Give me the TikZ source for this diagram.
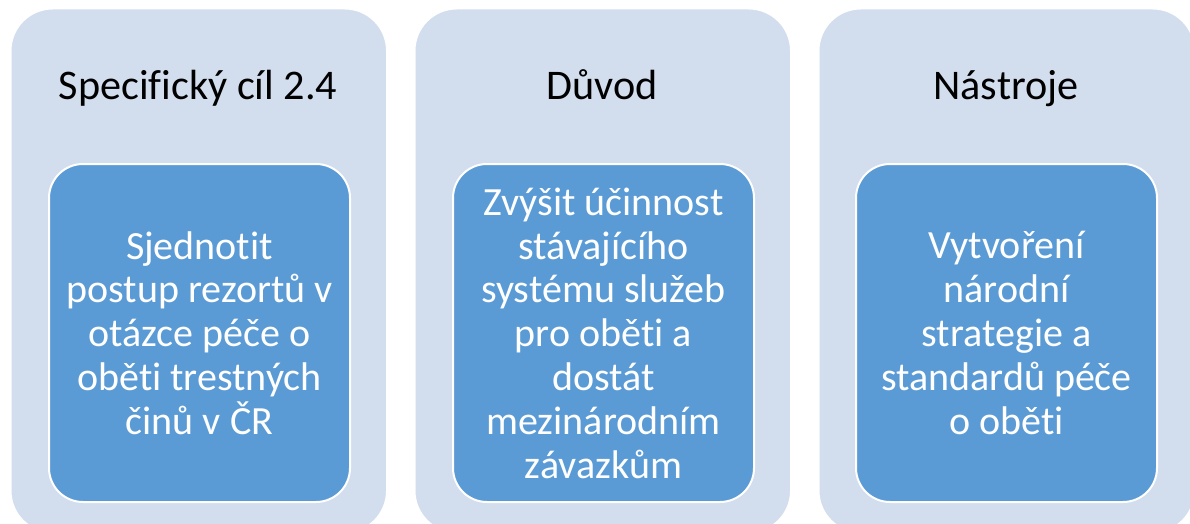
\documentclass[tikz,border=0pt]{standalone}
\usepackage{fontspec}
\setmainfont{Carlito}[Ligatures={NoCommon}]
\definecolor{outerfill}{HTML}{D2DDEE}
\definecolor{innerfill}{HTML}{5B9BD5}
\begin{document}
\begin{tikzpicture}[x=1pt,y=-1pt,
  outerbox/.style={draw=white,line width=1.5pt,fill=outerfill,rounded corners=42pt,minimum width=376pt,minimum height=524pt,inner sep=0pt,anchor=north west},
  innerbox/.style={draw=white,line width=2pt,fill=innerfill,rounded corners=34pt,minimum width=301pt,minimum height=338pt,inner sep=0pt,anchor=north west},
  titletext/.style={anchor=base,font=\fontsize{42.2}{50}\selectfont,text=black},
  bodytext/.style={anchor=center,align=center,font=\fontsize{40}{43.8}\selectfont,text=white}]
\useasboundingbox (0,0) rectangle (1190,524);
\clip (0,0) rectangle (1190,524);
\fill[white] (0,0) rectangle (1190,524);
\node[outerbox] (o1) at (10,8) {};
\node[outerbox] (o2) at (414,8) {};
\node[outerbox] (o3) at (818,8) {};
\node[innerbox] (i1) at (48,163) {};
\node[innerbox] (i2) at (452,163) {};
\node[innerbox] (i3) at (855,163) {};
\node[titletext] (t1) at (198,100) {Specifický cíl 2.4};
\node[titletext] (t2) at (602,100) {Důvod};
\node[titletext] (t3) at (1006,100) {Nástroje};
\node[bodytext] (b1) at (i1.center) {Sjednotit\\postup rezortů v\\otázce péče o\\oběti trestných\\činů v ČR};
\node[bodytext] (b2) at (i2.center) {Zvýšit účinnost\\stávajícího\\systému služeb\\pro oběti a\\dostát\\mezinárodním\\závazkům};
\node[bodytext] (b3) at (i3.center) {Vytvoření\\národní\\strategie a\\standardů péče\\o oběti};
\end{tikzpicture}
\end{document}
